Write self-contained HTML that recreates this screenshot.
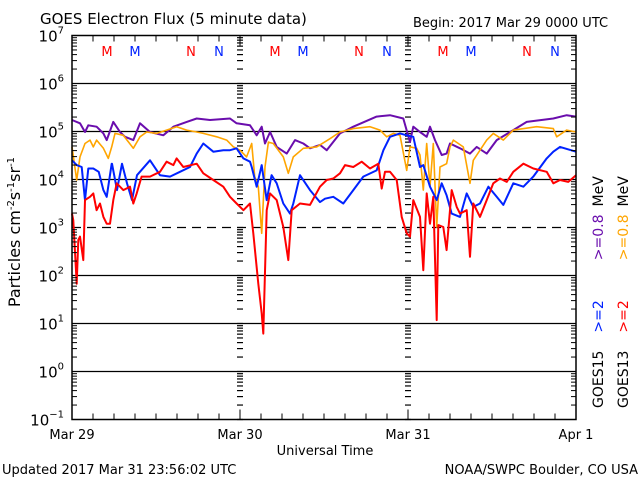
<!DOCTYPE html>
<html><head><meta charset="utf-8"><style>
body{margin:0;background:#fff;}
svg{display:block;font-family:"DejaVu Sans","Liberation Sans",sans-serif;}
</style></head><body>
<svg id="chart" width="640" height="480" viewBox="0 0 640 480">
<rect width="640" height="480" fill="#fff"/>
<text x="40" y="24" font-size="15">GOES Electron Flux (5 minute data)</text>
<text x="413" y="27" font-size="13">Begin: 2017 Mar 29 0000 UTC</text>
<text x="2" y="474" font-size="13">Updated 2017 Mar 31 23:56:02 UTC</text>
<text x="638" y="474" font-size="13" text-anchor="end">NOAA/SWPC Boulder, CO USA</text>
<text x="325" y="455" font-size="13" text-anchor="middle">Universal Time</text>
<text transform="translate(20,232) rotate(-90)" font-size="16" text-anchor="middle">Particles cm<tspan font-size="10" dy="-6">-2</tspan><tspan dy="6">s</tspan><tspan font-size="10" dy="-6">-1</tspan><tspan dy="6">sr</tspan><tspan font-size="10" dy="-6">-1</tspan></text>
<g id="grid"></g>
<g id="series"></g>
<g id="axes"></g>
<g font-size="14">
<text transform="translate(603,408) rotate(-90)"><tspan fill="#000">GOES15</tspan><tspan dx="18" fill="#0022ff">&gt;=2</tspan><tspan dx="40" fill="#6a0dad">&gt;=0.8</tspan><tspan dx="8" fill="#000">MeV</tspan></text>
<text transform="translate(628,408) rotate(-90)"><tspan fill="#000">GOES13</tspan><tspan dx="18" fill="#ff0000">&gt;=2</tspan><tspan dx="40" fill="#ffa500">&gt;=0.8</tspan><tspan dx="8" fill="#000">MeV</tspan></text>
</g>
</svg>
<script>
const dayLabels=["Mar 29","Mar 30","Mar 31","Apr 1"];
const decades=[-1,0,1,2,3,4,5,6,7];
const markerLabels=["M","M","N","N"];
const markerHours=[5,9,17,21];
const markerColors=["#ff0000","#0022ff","#ff0000","#0022ff"];
const purpleT=[0,1.14,1.86,2.33,3.52,4.48,4.95,5.9,6.86,7.57,8.76,9.71,11.14,13.05,14.48,16.38,17.81,19.71,22.57,23.52,25.43,26.38,27.1,27.57,28.3,29.24,30.67,31.86,33.05,34,35.43,36.38,38.29,40.19,43.52,45.43,47.33,48.29,48.76,49.71,50.67,51.14,51.86,52.81,53.52,54,55.43,56.86,57.81,59.24,60.67,63.05,64.95,68.76,70.67,72];
const purpleV=[5.24,5.17,4.99,5.13,5.10,4.96,4.82,5.2,4.99,4.89,4.82,5.17,4.99,4.92,5.10,5.2,5.27,5.24,5.27,5.17,5.13,4.92,5.10,4.75,4.99,4.68,4.54,4.82,4.75,4.65,4.72,4.61,4.96,5.10,5.31,5.34,5.27,4.78,5.10,4.99,4.89,5.10,4.82,4.51,4.54,4.75,4.65,4.54,4.68,4.54,4.82,5.03,5.2,5.27,5.34,5.31];
const orangeT=[0,0.67,1.14,1.86,2.57,3.05,3.52,4.48,5.19,5.67,6.14,7.33,8.76,9.71,10.67,12.1,13.52,14.95,16.38,17.81,18.76,20.67,22.1,23.05,24,24.95,25.67,26.1,26.62,27.1,27.57,28.05,28.76,30.19,30.9,31.62,33.05,34.95,36.86,38.29,40.19,42.57,44,44.95,45.9,46.86,47.81,48.29,49.24,49.71,50.19,50.67,51.14,51.62,52.1,52.57,53.52,54,54.48,55.9,56.86,57.33,58.29,59.24,60.19,61.62,63.05,66.38,68.76,69.24,70.67,72];
const orangeV=[4.68,3.99,4.47,4.75,4.82,4.68,4.82,4.65,4.44,4.68,4.96,4.92,4.65,4.89,4.99,4.96,5.03,5.10,5.03,4.99,4.96,4.89,4.82,4.68,4.61,4.47,4.75,4.06,3.85,2.88,4.26,4.78,4.75,4.47,4.13,4.47,4.65,4.68,4.85,4.99,5.06,5.10,5.03,4.89,4.96,4.92,4.19,4.68,4.65,4.51,3.78,4.75,3.85,4.75,3.01,4.26,4.33,4.68,4.82,4.68,3.92,4.40,4.61,4.82,4.96,4.82,5.03,5.10,5.06,4.89,5.03,4.99];
const blueT=[0,0.67,1.38,1.86,2.33,3.05,3.81,4.48,4.95,5.67,5.71,6.43,7.14,7.86,8.57,9.29,11.14,12.57,14,15.43,16.86,17.81,18.76,20.19,21.62,22.57,23.52,24.48,25.43,25.67,26.38,27.1,27.81,28.52,29.24,30.19,31.14,31.62,32.57,34,35.43,36.14,37.33,38.76,40.19,41.62,43.52,44.48,45.43,46.86,47.81,48.76,49.71,50.19,51.14,52.1,52.81,53.52,54.24,55.43,56.38,57.33,58.29,59.48,60.67,61.62,63.05,64.48,65.9,67.81,68.76,69.71,72];
const blueV=[4.40,4.30,4.26,3.57,4.23,4.23,4.16,3.78,3.64,4.33,4.33,3.78,4.33,3.92,3.57,4.09,4.40,4.09,4.06,4.16,4.26,4.54,4.75,4.58,4.61,4.61,4.65,4.44,4.37,4.26,3.85,4.30,3.57,4.09,3.92,3.50,3.29,3.50,4.09,3.78,3.53,3.60,3.64,3.50,3.78,4.06,4.19,4.61,4.89,4.96,4.92,4.89,4.26,4.30,3.85,3.57,3.92,3.67,3.29,3.22,3.71,3.43,3.50,3.85,3.64,3.47,3.92,3.85,4.06,4.44,4.58,4.68,4.58,4.78,4.78];
const redT=[0,0.19,0.67,0.9,1.14,1.62,1.86,2.57,3.05,3.52,4.0,4.48,4.95,5.43,5.9,6.38,7.33,8.29,8.76,9.24,9.95,11.14,12.57,13.52,14.48,14.95,15.9,17.81,18.76,20.19,21.62,22.57,23.52,24.48,25.43,25.9,26.62,27.1,27.33,27.81,28.29,29.24,30.19,30.9,31.38,32.57,34,35.43,36.38,37.33,38.29,39,40.19,41.38,42.57,43.76,44.24,44.71,45.43,46.38,47.1,47.81,48.29,48.76,49.71,50.19,50.67,51.14,51.62,52.1,52.33,53.05,53.52,54.24,54.95,55.43,56.38,56.86,57.33,58.29,59.24,60.19,61.14,62.1,63.05,64.48,65.9,67.81,68.76,69.71,70.9,72];
const redV=[3.29,3.15,1.83,2.74,2.81,2.32,3.57,3.64,3.71,3.36,3.50,3.22,3.08,3.08,3.57,3.92,3.78,3.85,3.50,3.71,4.06,4.06,4.16,4.37,4.30,4.44,4.26,4.33,4.13,3.99,3.85,3.64,3.50,3.36,3.50,2.88,1.83,1.21,0.79,3.36,3.71,3.57,3.01,2.32,3.36,3.50,3.47,3.85,3.99,4.02,4.13,4.30,4.26,4.37,4.23,4.33,3.81,4.16,4.16,3.99,3.22,2.88,2.81,3.57,3.22,2.11,3.71,3.08,3.64,1.07,3.05,3.01,2.53,3.78,3.43,3.29,3.36,2.39,3.50,3.22,3.57,3.92,4.02,3.95,4.16,4.33,4.23,4.16,3.92,3.99,3.95,4.09];

const NS="http://www.w3.org/2000/svg";
const X0=72,X1=576,YTOP=35.5,YBOT=419.5;
function xs(h){return X0+(X1-X0)*h/72;}
function ys(v){return YTOP+(7-v)*(YBOT-YTOP)/8;}
function mk(tag,attrs,parent){const e=document.createElementNS(NS,tag);for(const k in attrs)e.setAttribute(k,attrs[k]);parent.appendChild(e);return e;}
const grid=document.getElementById('grid'),axes=document.getElementById('axes'),ser=document.getElementById('series');

decades.forEach(d=>{
  if(d===-1||d===7)return;
  const l=mk('line',{x1:X0,x2:X1,y1:ys(d),y2:ys(d),stroke:'#000','stroke-width':1.3},grid);
  
  
  if(d===3)l.setAttribute('stroke-dasharray','9,6');
});
// day dividers as tick columns
[1,2].forEach(day=>{
  const x=xs(day*24);
  for(let d=-1;d<7;d++){for(let m=1;m<10;m++){const y=ys(d+Math.log10(m));
    const t=mk('line',{x1:x-3,x2:x+3,y1:y,y2:y,stroke:'#000','stroke-width':1.2},grid);
    
    }}
});
const box=mk('rect',{x:X0,y:YTOP,width:X1-X0,height:YBOT-YTOP,fill:'none',stroke:'#000','stroke-width':1.5},axes);


for(let d=-1;d<7;d++){for(let m=1;m<10;m++){const y=ys(d+Math.log10(m));const len=m===1?0:5;
  if(len){mk('line',{x1:X0,x2:X0+len,y1:y,y2:y,stroke:'#000'},axes);mk('line',{x1:X1,x2:X1-len,y1:y,y2:y,stroke:'#000'},axes);}}}
for(let h=3;h<72;h+=3){const x=xs(h);const len=h%24===0?10:6;
  mk('line',{x1:x,x2:x,y1:YBOT,y2:YBOT-len,stroke:'#000'},axes);mk('line',{x1:x,x2:x,y1:YTOP,y2:YTOP+len,stroke:'#000'},axes);}
decades.forEach(d=>{
  const t=mk('text',{x:64,y:ys(d)+6,'font-size':15,'text-anchor':'end'},axes);
  
  
  t.innerHTML='10<tspan font-size="10" dy="-8">'+(d<0?'\u22121':d)+'</tspan>';
});
dayLabels.forEach((s,i)=>{
  const t=mk('text',{x:xs(i*24),y:439,'font-size':13,'text-anchor':'middle'},axes);
  
  
  t.textContent=s;
});
for(let day=0;day<3;day++)markerLabels.forEach((s,i)=>{
  const t=mk('text',{x:xs(day*24+markerHours[i]),y:56,'font-size':13,'text-anchor':'middle',fill:markerColors[i]},axes);
  
  
  t.textContent=s;
});
function line(T,V,col,w,name){
  const pts=T.map((t,i)=>xs(t).toFixed(1)+','+ys(V[i]).toFixed(1)).join(' ');
  const p=mk('polyline',{points:pts,fill:'none',stroke:col,'stroke-width':w,'stroke-linejoin':'round'},ser);
  
  
}
line(purpleT,purpleV,'#6a0dad',2,'goes15-0.8mev-line');
line(orangeT,orangeV,'#ffa500',1.6,'goes13-0.8mev-line');
line(blueT,blueV,'#0022ff',2,'goes15-2mev-line');
line(redT,redV,'#ff0000',2,'goes13-2mev-line');
</script>
</body></html>
